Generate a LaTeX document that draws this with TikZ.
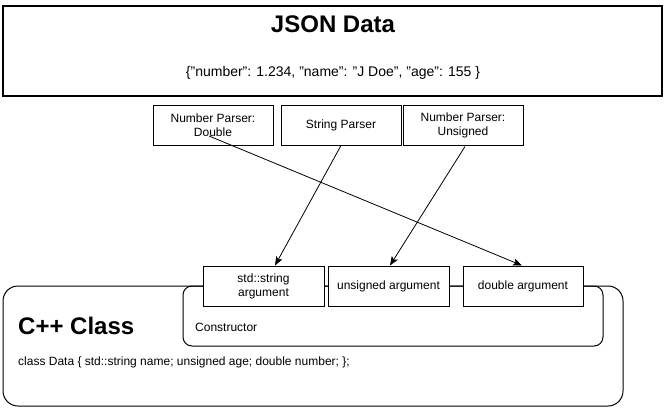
\documentclass[tikz,border=0pt]{standalone}
\usepackage{fontspec}
\setmainfont{Liberation Sans}
\usetikzlibrary{arrows.meta,calc}
\newcommand{\dq}{\symbol{34}}
\begin{document}
\begin{tikzpicture}[x=1pt,y=-1pt,
  box/.style={draw,line width=1pt,fill=white,inner sep=0pt,font=\fontsize{12}{14}\selectfont,align=center},
  rbox/.style={draw,line width=1pt,rounded corners=#1},
  lbl/.style={inner sep=0pt,anchor=west,font=\fontsize{12}{14}\selectfont},
  conn/.style={line width=0.8pt,-{Stealth[length=9pt,width=7pt,inset=2pt]}}]
\useasboundingbox (0,0) rectangle (670,418);
% JSON box
\node[draw,line width=1.2pt,minimum width=659pt,minimum height=90pt,inner sep=0pt] (json) at (332.5,51) {};
\node[inner sep=0pt,font=\bfseries\fontsize{24}{28}\selectfont] (jt) at (333,24) {JSON Data};
\node[inner sep=0pt,font=\fontsize{14}{16}\selectfont] (jd) at (333,73) {\{\dq number\dq: 1.234, \dq name\dq: \dq J Doe\dq, \dq age\dq: 155 \}};
% parsers
\node[box,minimum width=120pt,minimum height=40pt] (p1) at (213,125) {Number Parser:\\Double};
\node[box,minimum width=120pt,minimum height=40pt] (p2) at (341,125) {String Parser};
\node[box,minimum width=120pt,minimum height=40pt] (p3) at (463,125) {Number Parser:\\Unsigned};
% class boxes
\draw[rbox=15pt] (3,286) rectangle (623,406);
\node[draw=none,minimum width=620pt,minimum height=120pt,inner sep=0pt] (cls) at (313,346) {};
\draw[rbox=9pt] (183,286) rectangle (603,346);
\node[draw=none,minimum width=420pt,minimum height=60pt,inner sep=0pt] (ctor) at (393,316) {};
\node[inner sep=0pt,anchor=west,font=\bfseries\fontsize{24}{28}\selectfont] (ct) at (18,326) {C++ Class};
\node[lbl] (cd) at (18,362) {class Data \{ std::string name; unsigned age; double number; \};};
\node[lbl] (cn) at (195,327) {Constructor};
% arguments
\node[box,minimum width=121pt,minimum height=40pt] (sa) at (263.5,286) {std::string\\argument};
\node[box,minimum width=121pt,minimum height=40pt] (ua) at (388.5,286) {unsigned argument};
\node[box,minimum width=120pt,minimum height=40pt] (da) at (523,286) {double argument};
% connectors
\coordinate (s1) at ([shift={(-4,11)}]p1.center);
\coordinate (e1) at ([shift={(-1,0)}]da.north);
\coordinate (e2) at ([shift={(11.5,0)}]sa.north);
\coordinate (e3) at ([shift={(1.5,0)}]ua.north);
\draw[conn] (s1) -- (e1);
\draw[conn] (p2.south) -- (e2);
\draw[conn] ([shift={(2,1)}]p3.south) -- (e3);
\end{tikzpicture}
\end{document}
